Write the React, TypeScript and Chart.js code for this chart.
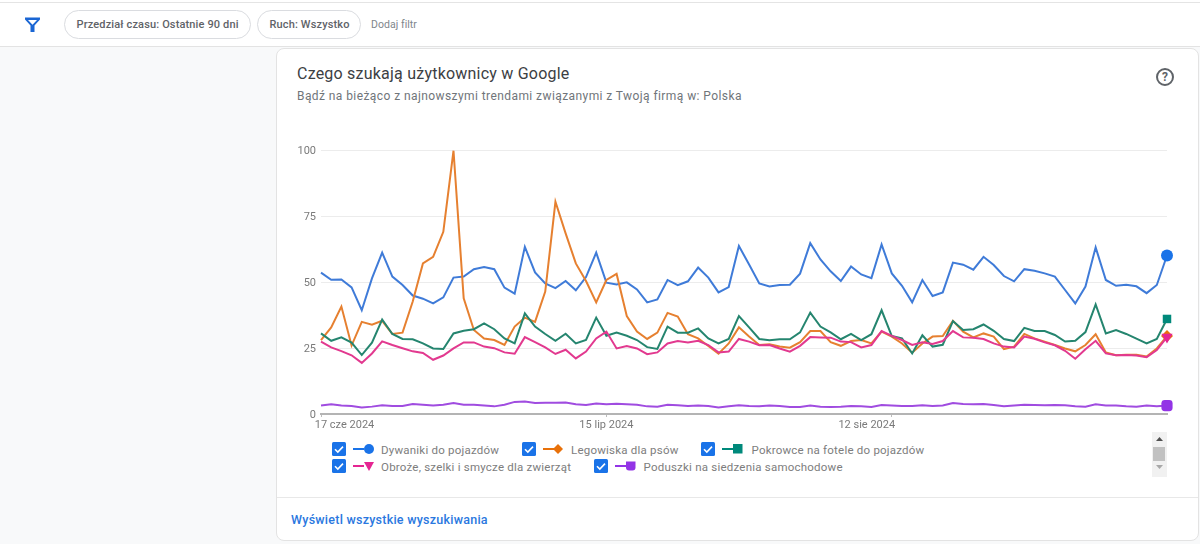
import React, { useEffect, useRef } from "react";
import { Chart, registerables } from "chart.js";

Chart.register(...registerables);

const dayCount = 84;
const startDate = new Date(2024, 5, 17);
const tickIndexes = [0, 28, 56];
const tickLabels = ["17 cze 2024", "15 lip 2024", "12 sie 2024"];
const categories: string[] = Array.from({ length: dayCount }, (_, i) => {
  const d = new Date(startDate.getTime() + i * 86400000);
  return d.toISOString().slice(0, 10);
});

const dywaniki = [53.7,51,51.1,48.1,39.4,51.5,61.3,52.2,49,45,43.8,42,44.3,51.8,52.2,55,55.8,55,48,45.7,63.5,53.8,49.6,47.8,50.5,47,52,61.3,49.9,49.2,50,47.3,42.4,43.5,50.9,48.9,50.4,55.6,51.8,46.2,48.2,63.8,56.8,49.6,48.4,49,49.1,53.3,64.9,58.7,54.2,50.5,56,53,51.6,64.4,53.4,48.7,42.4,50.9,44.8,46.2,57.5,56.7,54.8,59.7,56.6,52.4,50.4,55,54.4,53.4,52.2,47.1,42,48.4,63.3,50.9,48.7,49.1,48.5,45.9,49,60.2];
const legowiska = [28.1,32.9,40.8,26,35,33.9,35.4,30.4,30.9,42.7,57.2,59.7,69.2,100,43.9,31.9,28.7,28.1,26.2,33.2,36.6,35,46.5,80.6,68.6,57.2,50.5,42.4,50.9,53.2,37.2,31.3,28.5,30.9,38.4,37,30.3,28.7,25.8,22.9,26.8,32.9,29.4,26.2,26.5,25.6,25.2,27.3,31.5,31.5,27.3,25.9,27.7,28.1,26.8,31.3,29.4,26.8,23.3,26.8,29.4,29.6,35.4,31.3,29.1,30.6,29.4,24.6,25.6,30.4,28.7,27.5,26.2,24.9,23.8,26.2,30.3,23.4,22.3,22.5,22.5,21.8,24.9,29.6];
const pokrowce = [30.6,27.8,29.1,27.1,22.4,27.1,35.9,30.4,28.5,28.4,26.8,24.9,24.7,30.6,31.6,32.2,34.4,32.2,28.7,26.8,38.2,33.2,30.4,27.8,30.5,26.8,28.1,36.6,29.7,30.9,29.7,28.1,25.4,24.7,33.2,30.9,30.9,32.5,28.7,26.8,28.5,37.2,32.9,28.5,28,28.4,28.4,31,38.5,33.2,31,28.4,30.4,28.1,30.3,39.4,29.6,28.7,23,29.9,25.6,26.3,35.3,31.9,32.2,34,31.6,28.5,27.7,32.7,31.5,31.5,30,27.5,27.8,31.1,41.6,30.6,31.9,30.4,28.6,26.8,28.5,36.1];
const obroze = [27.5,25.3,23.9,22.3,19.4,23,27.6,26.2,25,23.8,23.2,20.6,22.2,24.9,27.2,27.2,25.6,25,23.4,22.9,29.2,27.3,25.3,22.8,24.4,21.1,23.7,28.7,31.3,24.9,25.8,24.9,22.7,23.4,26.8,27.7,27.2,27.8,26.2,23.4,23.7,28.5,27.5,26.1,26.2,24.9,23.7,25.9,29.2,29.1,29,27.5,27.3,25.3,26.2,31.5,29.7,28.1,26.2,27.2,26.6,27.7,31.5,29.1,29,28.5,26.8,25.6,25.3,29.4,28.6,27.2,26.1,24,21,24.6,27.8,23,22.3,22.4,22.2,21.6,24.3,29.2];
const poduszki = [3.2,3.7,3.2,3,2.5,2.8,3.3,3,3,3.8,3.5,3.2,3.5,4.2,3.5,3.5,3.2,2.9,3.5,4.6,4.7,4.2,4.3,4.3,4.4,3.7,3.4,4,3.7,3.9,3.7,3.5,2.9,2.8,3.5,3.3,3,3.2,3,2.5,2.9,3.3,3,2.9,3.2,3,2.7,2.7,3.2,2.8,2.7,2.8,3,2.9,2.7,3.4,3.2,3,3,3.3,3,3.2,4.2,3.8,3.7,3.8,3.4,2.9,3.2,3.5,3.4,3.3,3.4,3.3,2.9,2.8,3.7,3.2,3.2,2.9,2.8,3.2,2.9,3.2];
const yTicks = [0, 25, 50, 75, 100];

const seriesNames = [
  "Dywaniki do pojazdów",
  "Legowiska dla psów",
  "Pokrowce na fotele do pojazdów",
  "Obroże, szelki i smycze dla zwierząt",
  "Poduszki na siedzenia samochodowe",
];

const FONT = "Roboto, Arial, sans-serif";

const styles = [
  { line: "#3f7bd8", mark: "#1a73e8", shape: "circle", r: 6, rot: 0 },
  { line: "#e68030", mark: "#e8710a", shape: "rectRot", r: 6, rot: 0 },
  { line: "#25856f", mark: "#00897b", shape: "rect", r: 6, rot: 0 },
  { line: "#e2398f", mark: "#e52592", shape: "triangle", r: 6.5, rot: 180 },
  { line: "#a04ce0", mark: "#9334e6", shape: "rectRounded", r: 6.5, rot: 0 },
];
const seriesValues = [dywaniki, legowiska, pokrowce, obroze, poduszki];

const legendLayout = [
  { cb: 332, y: 442, line: 353, mark: 369, text: 381 },
  { cb: 522, y: 442, line: 543, mark: 558, text: 571 },
  { cb: 701, y: 442, line: 722, mark: 738, text: 751.5 },
  { cb: 332, y: 459, line: 353, mark: 369, text: 381 },
  { cb: 594, y: 459, line: 615, mark: 631, text: 643.5 },
];

function LegendMark({ i }: { i: number }) {
  const c = styles[i].mark;
  if (i === 0) return <circle cx={6} cy={6} r={5} fill={c} />;
  if (i === 1) return <polygon points="6,1 11,6 6,11 1,6" fill={c} />;
  if (i === 2) return <rect x={1} y={1} width={9.5} height={9.5} fill={c} />;
  if (i === 3) return <polygon points="1,2 11,2 6,11" fill={c} />;
  return <path d="M1 1.5h9.5v6a3 3 0 0 1-3 3h-3.5a3 3 0 0 1-3-3z" fill={c} />;
}

const abs = (l: number, t: number, w: number, h: number): React.CSSProperties => ({
  position: "absolute", left: l, top: t, width: w, height: h, boxSizing: "border-box",
});

const chip: React.CSSProperties = {
  border: "1px solid #dadce0", borderRadius: 15, lineHeight: "27px", paddingLeft: 11.5,
  fontSize: 11, fontWeight: 500, color: "#5f6368", letterSpacing: 0.14, whiteSpace: "nowrap",
};

export default function App() {
  const ref = useRef<HTMLCanvasElement>(null);

  useEffect(() => {
    const last = categories.length - 1;
    const chart = new Chart(ref.current!, {
      type: "line",
      data: {
        labels: categories,
        datasets: seriesValues.map((v, i) => ({
          label: seriesNames[i],
          data: v,
          borderColor: styles[i].line,
          backgroundColor: styles[i].mark,
          borderWidth: 2,
          tension: 0,
          order: 5 - i,
          clip: false as any,
          pointStyle: styles[i].shape as any,
          pointRotation: styles[i].rot,
          pointBorderWidth: 0,
          pointBackgroundColor: styles[i].mark,
          pointRadius: (c: any) => (c.dataIndex === last ? styles[i].r : 0),
          pointHoverRadius: 0,
        })),
      },
      options: {
        animation: false,
        responsive: false,
        layout: { padding: { top: 20.7, right: 23, bottom: 0, left: 0 } },
        plugins: { legend: { display: false }, tooltip: { enabled: false } },
        scales: {
          x: {
            type: "category",
            offset: false,
            afterFit: (s: any) => { s.height = 26; },
            afterBuildTicks: (s: any) => {
              s.ticks = tickIndexes.map((value) => ({ value }));
            },
            ticks: {
              autoSkip: false,
              maxRotation: 0,
              minRotation: 0,
              padding: 2,
              color: "#7a7a7a",
              font: { family: FONT, size: 11 },
              callback: (_v: any, idx: number) => tickLabels[idx],
            },
            grid: { drawOnChartArea: false, drawTicks: true, tickLength: 3, color: "#bdbdbd", tickWidth: 1 },
            border: { display: true, color: "#b4b4b4", width: 2 },
          },
          y: {
            min: 0,
            max: 100,
            afterFit: (s: any) => { s.width = 45; },
            afterBuildTicks: (s: any) => {
              s.ticks = yTicks.map((value) => ({ value }));
            },
            ticks: {
              padding: 5,
              labelOffset: 1,
              color: "#7a7a7a",
              font: { family: FONT, size: 11 },
            },
            grid: { color: "#ececec", lineWidth: 1, drawTicks: false },
            border: { display: false },
          },
        },
      },
      plugins: [
        {
          id: "shiftEdgeLabels",
          beforeDraw(c: any) {
            const items = c.scales.x.getLabelItems(c.chartArea);
            const shifts = [23.5, 0, -25];
            items.forEach((it: any, k: number) => {
              if (!it._shifted) {
                it.options.translation = [it.options.translation[0] + shifts[k], it.options.translation[1]];
                it._shifted = true;
              }
            });
          },
        },
      ],
    });
    return () => chart.destroy();
  }, []);

  return (
    <div style={{ position: "fixed", left: 0, top: 0, width: 1200, height: 544, overflow: "hidden", background: "#f8f9fa", fontFamily: FONT }}>
      {/* top filter bar */}
      <div style={{ ...abs(0, 0, 1200, 47), background: "#fff", borderTop: "1px solid #fff", borderBottom: "1px solid #e3e3e3" }} />
      <div style={{ ...abs(0, 2, 1200, 1), background: "#e4e4e4" }} />
      <svg style={abs(24, 16, 17, 17)} viewBox="0 0 17 17">
        <path d="M1 1.5h15v2L10.5 9.5v6.5h-4V9.5L1 3.5z M4 4l4.5 4.8L13 4z" fill="#1a66d4" fillRule="evenodd" />
      </svg>
      <div style={{ ...abs(64, 10, 187, 29), ...chip }}>Przedział czasu: Ostatnie 90 dni</div>
      <div style={{ ...abs(257, 10, 104, 29), ...chip }}>Ruch: Wszystko</div>
      <div style={{ ...abs(371, 10, 60, 29), lineHeight: "29px", fontSize: 10.5, color: "#80868b", letterSpacing: 0.05, whiteSpace: "nowrap" }}>Dodaj filtr</div>

      {/* card */}
      <div style={{ ...abs(276, 48, 923, 493), background: "#fff", border: "1px solid #e3e3e3", borderRadius: 8 }} />
      <div style={{ ...abs(277, 497, 921, 1), background: "#e8e8e8" }} />
      <div style={{ ...abs(297, 63, 400, 22), lineHeight: "22px", fontSize: 16, color: "#3c4043", letterSpacing: 0.22, whiteSpace: "nowrap" }}>Czego szukają użytkownicy w Google</div>
      <div style={{ ...abs(297, 87, 600, 18), lineHeight: "18px", fontSize: 12, color: "#70757a", letterSpacing: 0.42, whiteSpace: "nowrap" }}>Bądź na bieżąco z najnowszymi trendami związanymi z Twoją firmą w: Polska</div>
      <div style={{ ...abs(1156, 68, 18, 18), border: "2px solid #5f6368", borderRadius: "50%", color: "#5f6368", fontSize: 12, fontWeight: 700, lineHeight: "14px", textAlign: "center" }}>?</div>

      {/* chart */}
      <canvas ref={ref} width={914} height={310} style={{ ...abs(276, 130, 914, 310), display: "block" }} />

      {/* legend */}
      {seriesNames.map((name, i) => {
        const L = legendLayout[i];
        return (
          <React.Fragment key={name}>
            <svg style={abs(L.cb, L.y, 14, 14)} viewBox="0 0 14 14">
              <rect width={14} height={14} rx={1.5} fill="#1a73e8" />
              <path d="M3 7.2l2.8 2.8L11 4.6" fill="none" stroke="#fff" strokeWidth={1.6} />
            </svg>
            <div style={{ ...abs(L.line, L.y + 6, 11, 2), background: styles[i].mark }} />
            <svg style={abs(L.mark - 6, L.y + 1, 12, 12)} viewBox="0 0 12 12"><LegendMark i={i} /></svg>
            <div style={{ ...abs(L.text, L.y + 1, 260, 14), lineHeight: "15px", fontSize: 11.5, color: "#7d7d7d", letterSpacing: 0.22, whiteSpace: "nowrap" }}>{name}</div>
          </React.Fragment>
        );
      })}

      {/* legend scrollbar */}
      <div style={{ ...abs(1152, 432, 15, 45), background: "#f1f1f1" }} />
      <svg style={abs(1152, 432, 15, 45)} viewBox="0 0 15 45">
        <polygon points="4,9 11,9 7.5,5" fill="#505050" />
        <rect x={1} y={15} width={12} height={14} fill="#c1c1c1" />
        <polygon points="4,33 11,33 7.5,37" fill="#a8a8a8" />
      </svg>

      {/* footer link */}
      <div style={{ ...abs(291, 511, 300, 18), lineHeight: "18px", fontSize: 12.5, fontWeight: 500, color: "#2a78e0", letterSpacing: 0.25, whiteSpace: "nowrap" }}>Wyświetl wszystkie wyszukiwania</div>
    </div>
  );
}
